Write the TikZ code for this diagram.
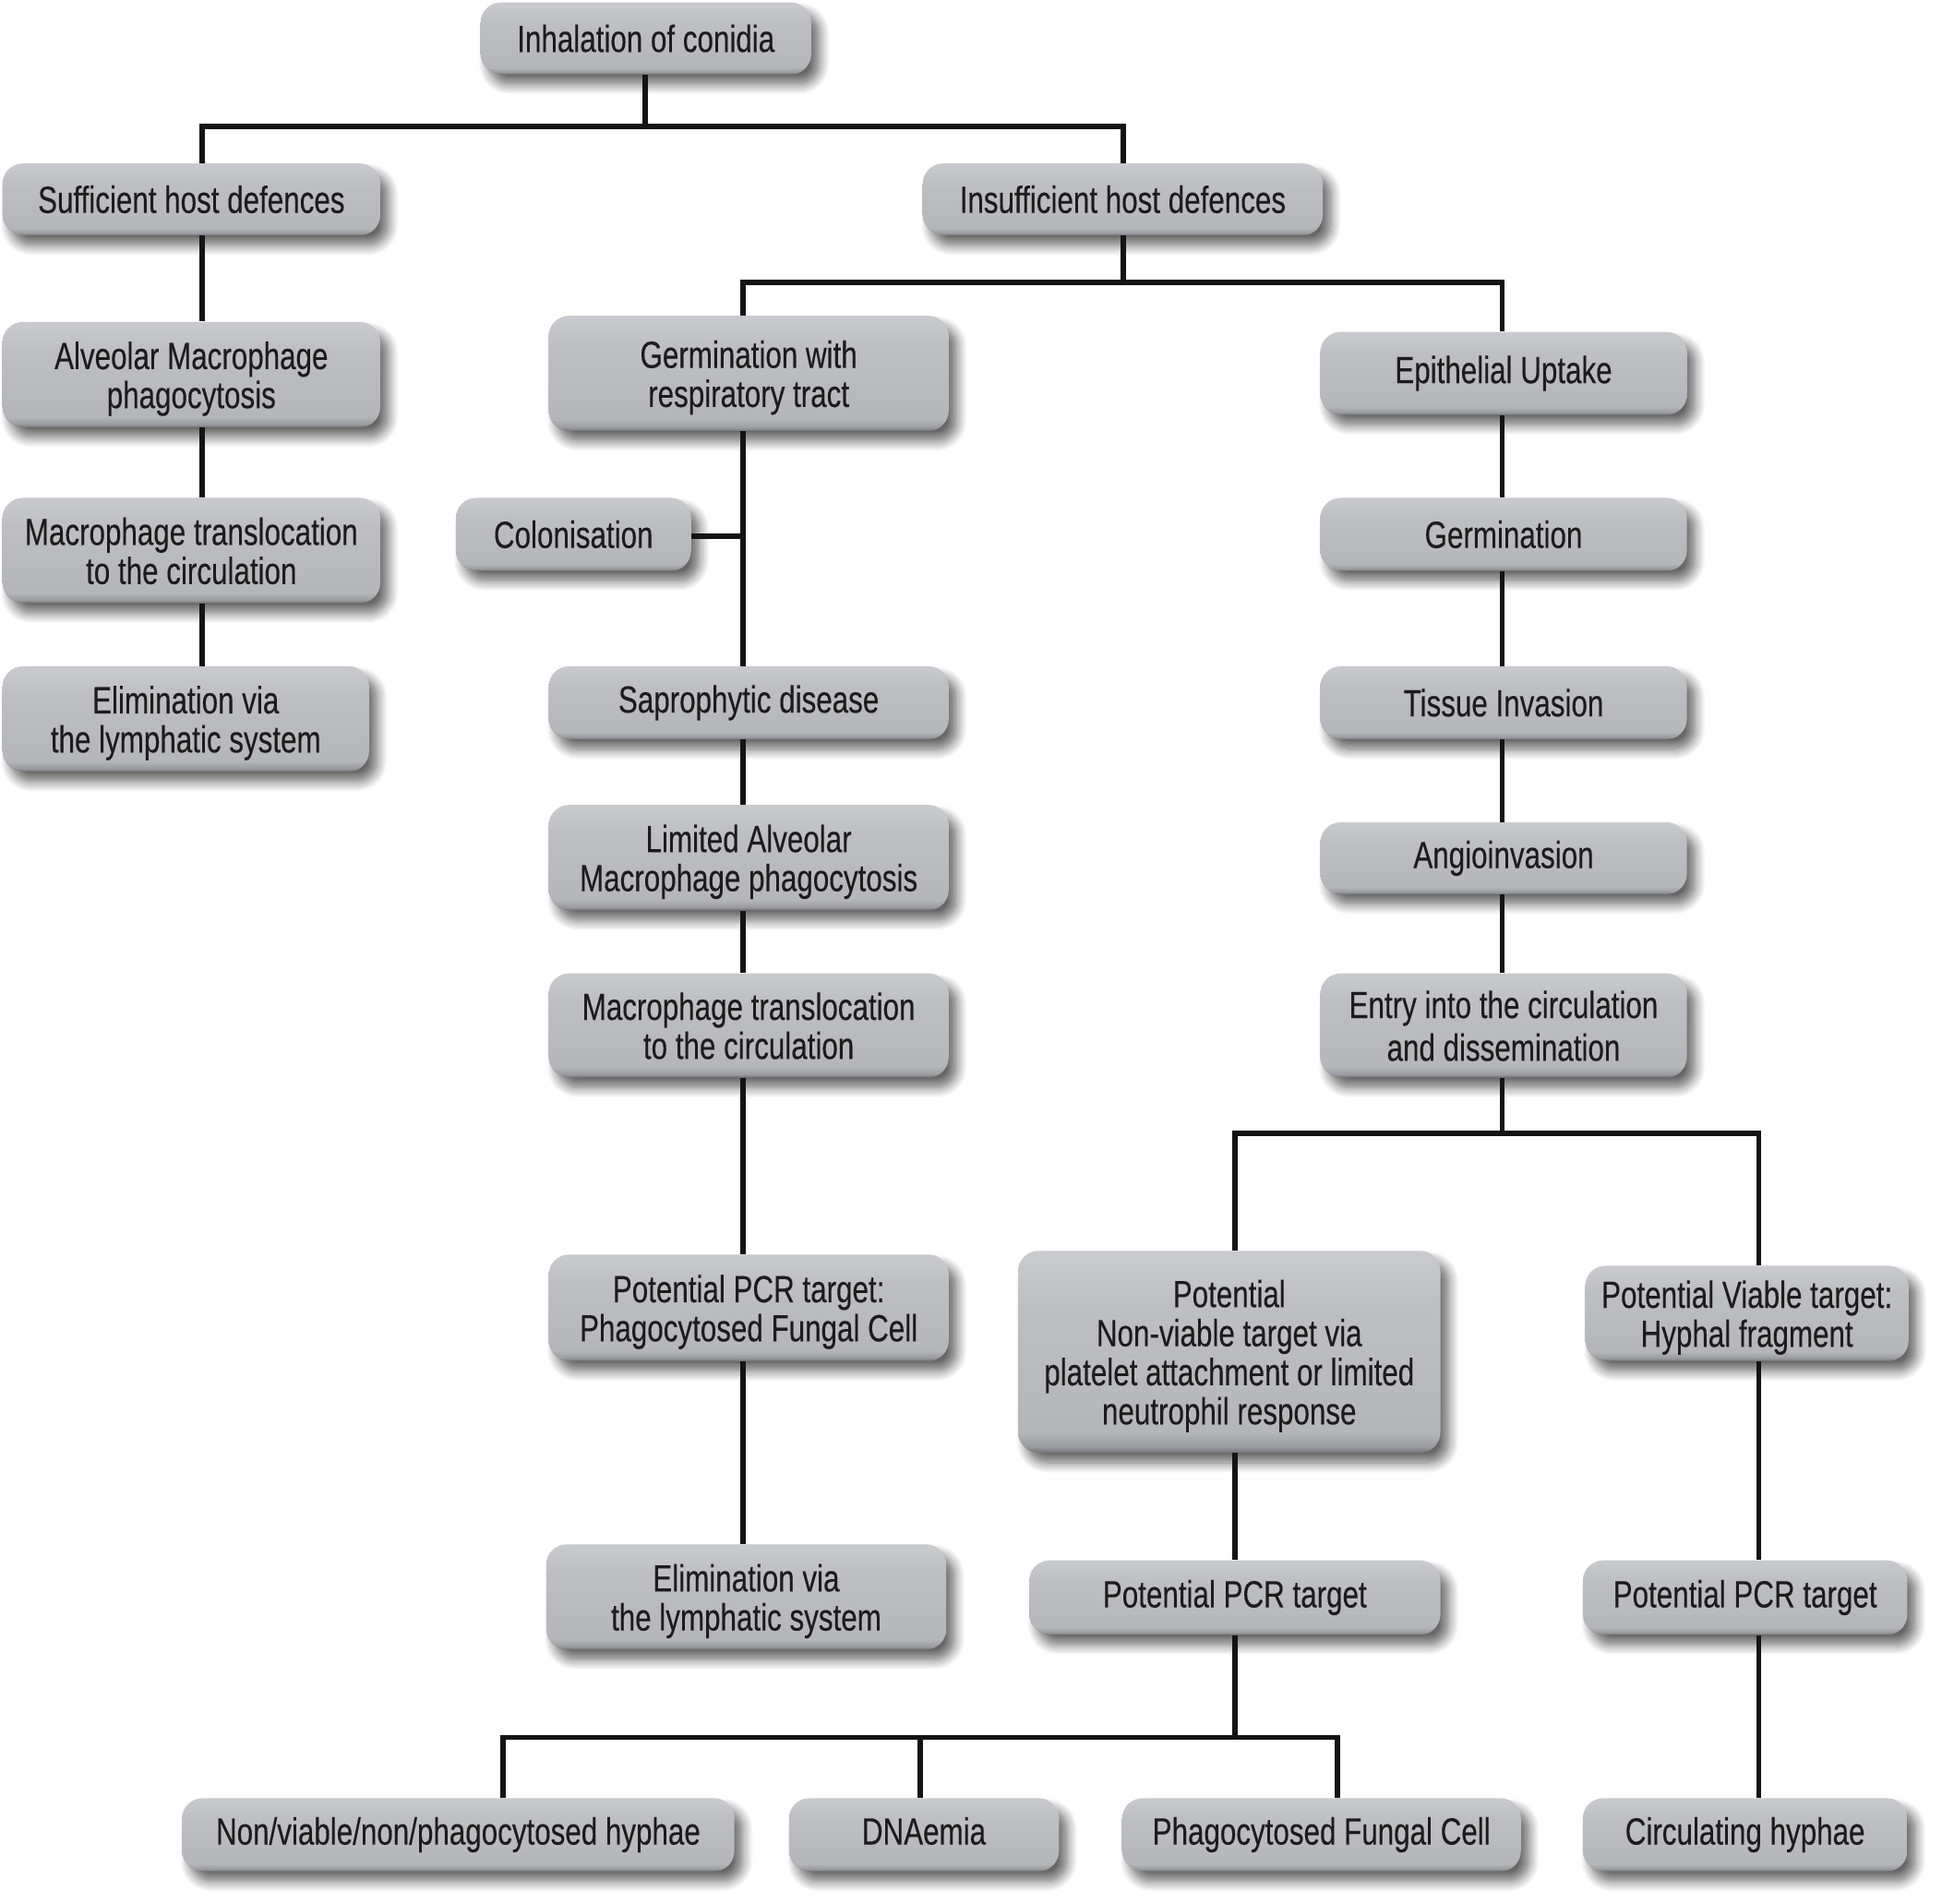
\documentclass[tikz,border=0pt]{standalone}
\usepackage{fontspec}
\setmainfont{Liberation Sans}[FakeStretch=0.765, FakeBold=0.25]
\usetikzlibrary{shadows.blur}
\definecolor{bxd}{HTML}{727377}
\definecolor{bxdd}{HTML}{9A9B9F}
\definecolor{bxm}{HTML}{B5B6BA}
\definecolor{bxl}{HTML}{BEBFC3}
\definecolor{bxll}{HTML}{C8C9CD}
\definecolor{txt}{HTML}{1E1B1C}
\pgfdeclareverticalshading{bxsh}{100bp}{color(0bp)=(bxd); color(25bp)=(bxd); color(26.5bp)=(bxdd); color(30bp)=(bxm); color(62bp)=(bxl); color(73bp)=(bxll); color(75bp)=(bxll); color(100bp)=(bxll)}
\tikzset{
  bx/.style={shading=bxsh, rounded corners=11pt, align=center, inner sep=0pt,
    text=txt, font=\fontsize{20.5pt}{21pt}\selectfont,
    blur shadow={shadow xshift=4.5pt, shadow yshift=-5.5pt, shadow blur radius=5.5pt, shadow blur steps=10, shadow opacity=60}},
  ln/.style={line width=2.8pt, draw=black!92}
}
\renewcommand\arraystretch{1}
\newcommand\bx[6]{\node[bx, minimum width=#4*0.6709pt, minimum height=#5*0.6709pt] (#1) at (#2,#3) {#6};}
\newcommand\bxm[6]{\node[bx, minimum width=#4*0.6709pt, minimum height=#5*0.6709pt] (#1) at (#2,#3) {\raisebox{0pt}[\dimexpr\height+6.6pt\relax][\depth]{\begin{tabular}{@{}c@{}}#6\end{tabular}}};}
\begin{document}
\begin{tikzpicture}[x=0.6709pt, y=-0.6709pt]
\useasboundingbox (0,0) rectangle (1568,1537);
% boxes
\bx{inh}{521.5}{31}{267}{58}{Inhalation of conidia}
\bx{suf}{154.5}{161}{305}{58}{Sufficient host defences}
\bx{ins}{906.5}{161}{323}{58}{Insufficient host defences}
\bxm{alv}{154.5}{302.5}{305}{85}{Alveolar Macrophage\\phagocytosis}
\bxm{mta}{154.5}{444.5}{305}{85}{Macrophage translocation\\to the circulation}
\bxm{ela}{150}{580.5}{296}{85}{Elimination via\\the lymphatic system}
\bxm{ger}{604.5}{301.5}{323}{93}{Germination with\\respiratory tract}
\bx{epi}{1214}{301.5}{296}{67}{Epithelial Uptake}
\bx{col}{463}{431.5}{190}{59}{Colonisation}
\bx{grm}{1214}{431.5}{296}{59}{Germination}
\bx{sap}{604.5}{567.5}{323}{59}{Saprophytic disease}
\bx{tis}{1214}{567.5}{296}{59}{Tissue Invasion}
\bxm{lim}{604.5}{692.5}{323}{85}{Limited Alveolar\\Macrophage phagocytosis}
\bx{ang}{1214}{693}{296}{58}{Angioinvasion}
\bxm{mtb}{604.5}{828}{323}{84}{Macrophage translocation\\to the circulation}
\bxm{ent}{1214}{828}{296}{84}{Entry into the circulation\\[2pt]and dissemination}
\bxm{pca}{604.5}{1056}{323}{86}{Potential PCR target:\\Phagocytosed Fungal Cell}
\bxm{nvt}{992.5}{1091.5}{341}{163}{Potential\\Non-viable target via\\platelet attachment or limited\\neutrophil response}
\bxm{via}{1410.5}{1060.5}{261}{77}{Potential Viable target:\\Hyphal fragment}
\bxm{elb}{602.5}{1289.5}{323}{85}{Elimination via\\the lymphatic system}
\bx{pcb}{997}{1290}{332}{60}{Potential PCR target}
\bx{pcc}{1409}{1290}{262}{60}{Potential PCR target}
\bx{non}{370}{1481.5}{446}{59}{Non/viable/non/phagocytosed hyphae}
\bx{dna}{746}{1481.5}{218}{59}{DNAemia\vphantom{y}}
\bx{phf}{1067}{1481.5}{322}{59}{Phagocytosed Fungal Cell}
\bx{cir}{1409}{1481.5}{262}{59}{Circulating hyphae}
% junction coordinates
\coordinate (a0) at (521,102);
\coordinate (a1) at (163,102);
\coordinate (a2) at (907,102);
\coordinate (b0) at (907,228);
\coordinate (b1) at (600,228);
\coordinate (b2) at (1213,228);
\coordinate (cj) at (600,433);
\coordinate (d0) at (1213,915);
\coordinate (d1) at (997,915);
\coordinate (d2) at (1420,915);
\coordinate (e0) at (997,1403);
\coordinate (e1) at (406,1403);
\coordinate (e2) at (743,1403);
\coordinate (e3) at (1080,1403);
% connectors
\draw[ln] (inh.south -| a0) -- (a0);
\draw[ln] (suf.north -| a1) -- (a1) -- (a2) -- (ins.north -| a2);
\draw[ln] (suf.south -| a1) -- (alv.north -| a1);
\draw[ln] (alv.south -| a1) -- (mta.north -| a1);
\draw[ln] (mta.south -| a1) -- (ela.north -| a1);
\draw[ln] (ins.south -| b0) -- (b0);
\draw[ln] (ger.north -| b1) -- (b1) -- (b2) -- (epi.north -| b2);
\draw[ln] (ger.south -| b1) -- (sap.north -| b1);
\draw[ln] (col.east |- cj) -- (cj);
\draw[ln] (sap.south -| b1) -- (lim.north -| b1);
\draw[ln] (lim.south -| b1) -- (mtb.north -| b1);
\draw[ln] (mtb.south -| b1) -- (pca.north -| b1);
\draw[ln] (pca.south -| b1) -- (elb.north -| b1);
\draw[ln] (epi.south -| b2) -- (grm.north -| b2);
\draw[ln] (grm.south -| b2) -- (tis.north -| b2);
\draw[ln] (tis.south -| b2) -- (ang.north -| b2);
\draw[ln] (ang.south -| b2) -- (ent.north -| b2);
\draw[ln] (ent.south -| d0) -- (d0);
\draw[ln] (nvt.north -| d1) -- (d1) -- (d2) -- (via.north -| d2);
\draw[ln] (nvt.south -| d1) -- (pcb.north -| d1);
\draw[ln] (pcb.south -| e0) -- (e0);
\draw[ln] (non.north -| e1) -- (e1) -- (e3) -- (phf.north -| e3);
\draw[ln] (dna.north -| e2) -- (e2);
\draw[ln] (via.south -| d2) -- (pcc.north -| d2);
\draw[ln] (pcc.south -| d2) -- (cir.north -| d2);
\end{tikzpicture}
\end{document}
